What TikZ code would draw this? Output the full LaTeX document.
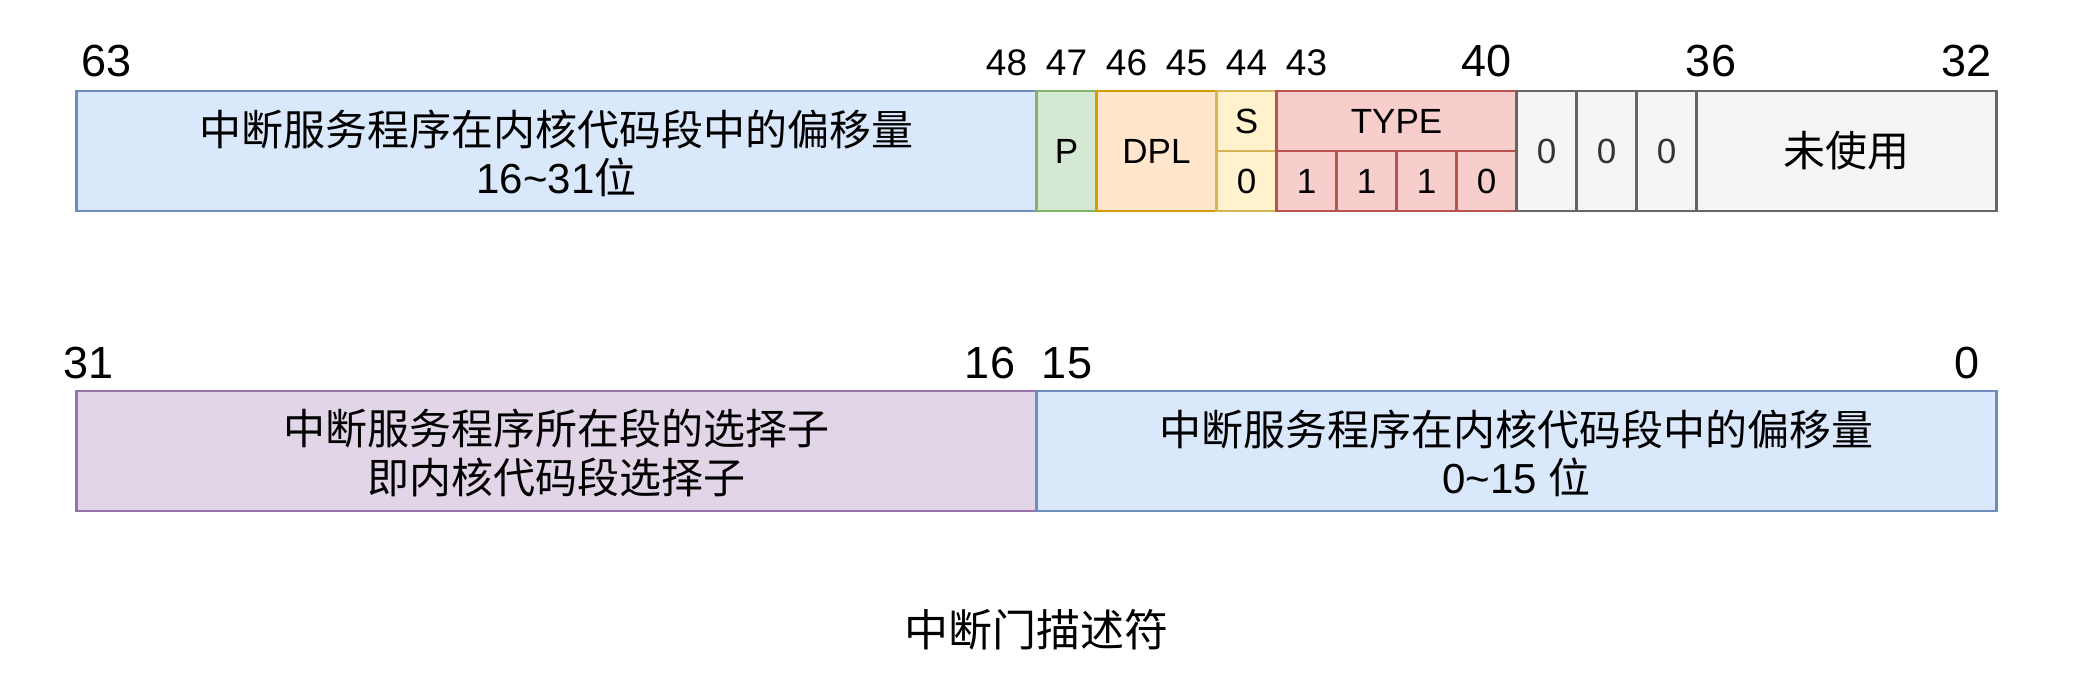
\documentclass[tikz,border=0pt]{standalone}
\usepackage{fontspec}
\setmainfont{Liberation Sans}
\newfontfamily\cjk{Noto Sans CJK SC}
\definecolor{blueF}{HTML}{DAE8FC}\definecolor{blueD}{HTML}{6C8EBF}
\definecolor{greenF}{HTML}{D5E8D4}\definecolor{greenD}{HTML}{82B366}
\definecolor{orangeF}{HTML}{FFE6CC}\definecolor{orangeD}{HTML}{D79B00}
\definecolor{yellowF}{HTML}{FFF2CC}\definecolor{yellowD}{HTML}{D6B656}
\definecolor{redF}{HTML}{F8CECC}\definecolor{redD}{HTML}{B85450}
\definecolor{grayF}{HTML}{F5F5F5}\definecolor{grayD}{HTML}{666666}
\definecolor{grayT}{HTML}{333333}
\definecolor{purpleF}{HTML}{E1D5E7}\definecolor{purpleD}{HTML}{9673A6}
\begin{document}
\begin{tikzpicture}[x=1pt,y=-1pt,
  box/.style={draw, line width=2.6pt, inner sep=0pt, outer sep=0pt, anchor=north west, align=center},
  full/.style={minimum height=120pt},
  half/.style={minimum height=60pt},
  wid/.style={minimum width=#1pt},
  bigtxt/.style={font=\fontsize{42}{47}\selectfont},
  smalltxt/.style={font=\fontsize{35}{40}\selectfont},
  line/.style={anchor=base, inner sep=0pt, font=\fontsize{42}{47}\selectfont},
  bluebox/.style={box, fill=blueF, draw=blueD},
  greenbox/.style={box, fill=greenF, draw=greenD},
  orangebox/.style={box, fill=orangeF, draw=orangeD},
  yellowbox/.style={box, fill=yellowF, draw=yellowD},
  redbox/.style={box, fill=redF, draw=redD},
  graybox/.style={box, fill=grayF, draw=grayD},
  purplebox/.style={box, fill=purpleF, draw=purpleD},
  biglbl/.style={anchor=base, inner sep=0pt, font=\fontsize{45}{50}\selectfont},
  smalllbl/.style={anchor=base, inner sep=0pt, font=\fontsize{37}{42}\selectfont}
]
\useasboundingbox[fill=white] (0,0) rectangle (2073,693);

% top row
\node[bluebox, full, wid=960] (off1) at (76.5,91) {};
\node[line] (off1a) at (556.5,145.5) {\cjk 中断服务程序在内核代码段中的偏移量};
\node[line] (off1b) at (556.5,193) {16\textasciitilde31{\cjk 位}};
\node[greenbox, full, wid=60, smalltxt] (p) at (1036.5,91) {P};
\node[orangebox, full, wid=120, smalltxt] (dpl) at (1096.5,91) {DPL};
\node[yellowbox, half, wid=60, smalltxt] (s) at (1216.5,91) {S};
\node[yellowbox, half, wid=60, smalltxt] (s0) at (1216.5,151) {0};
\node[redbox, half, wid=240, smalltxt] (type) at (1276.5,91) {TYPE};
\node[redbox, half, wid=60, smalltxt] (t3) at (1276.5,151) {1};
\node[redbox, half, wid=60, smalltxt] (t2) at (1336.5,151) {1};
\node[redbox, half, wid=60, smalltxt] (t1) at (1396.5,151) {1};
\node[redbox, half, wid=60, smalltxt] (t0) at (1456.5,151) {0};
\node[graybox, full, wid=60, smalltxt, text=grayT] (g39) at (1516.5,91) {0};
\node[graybox, full, wid=60, smalltxt, text=grayT] (g38) at (1576.5,91) {0};
\node[graybox, full, wid=60, smalltxt, text=grayT] (g37) at (1636.5,91) {0};
\node[graybox, full, wid=300, bigtxt] (unused) at (1696.5,91) {\cjk 未使用};

% top labels
\node[biglbl] (l63) at (106.5,77) {63};
\node[smalllbl] (l48) at (1006.5,76) {48};
\node[smalllbl] (l47) at (1066.5,76) {47};
\node[smalllbl] (l46) at (1126.5,76) {46};
\node[smalllbl] (l45) at (1186.5,76) {45};
\node[smalllbl] (l44) at (1246.5,76) {44};
\node[smalllbl] (l43) at (1306.5,76) {43};
\node[biglbl] (l40) at (1486.5,77) {40};
\node[biglbl] (l36) at (1711,77) {36};
\node[biglbl] (l32) at (1966.5,77) {32};

% bottom row
\node[purplebox, full, wid=960] (sel) at (76.5,391) {};
\node[line] (sela) at (556.5,444.5) {\cjk 中断服务程序所在段的选择子};
\node[line] (selb) at (556.5,493) {\cjk 即内核代码段选择子};
\node[bluebox, full, wid=960] (off0) at (1036.5,391) {};
\node[line] (off0a) at (1516.5,445.5) {\cjk 中断服务程序在内核代码段中的偏移量};
\node[line] (off0b) at (1516.5,493) {0\textasciitilde15 {\cjk 位}};

% bottom labels
\node[biglbl] (l31) at (89,378) {31};
\node[biglbl] (l16) at (990,378) {16};
\node[biglbl] (l15) at (1067,378) {15};
\node[biglbl] (l0) at (1967,378) {0};

% title
\node[inner sep=0pt, font=\fontsize{44}{47}\selectfont] (title) at (1036,629.5) {\cjk 中断门描述符};
\end{tikzpicture}
\end{document}
